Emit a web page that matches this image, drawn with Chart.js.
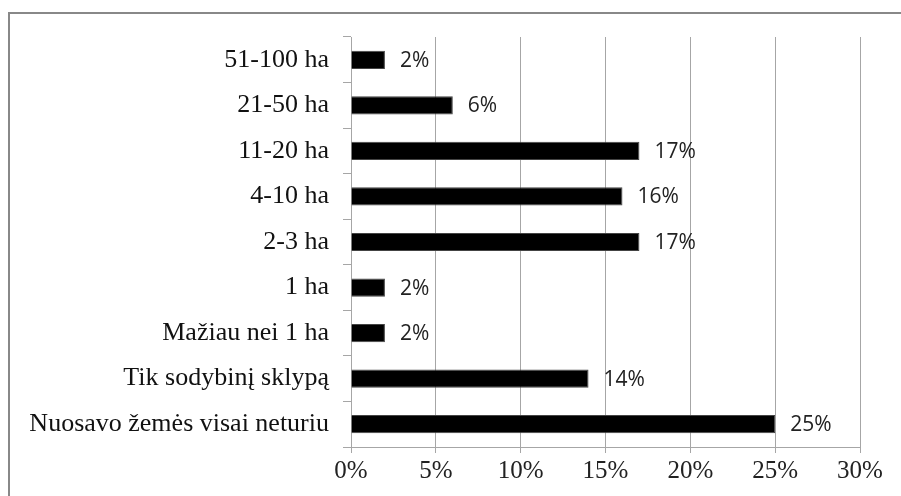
<!DOCTYPE html>
<html>
<head>
<meta charset="utf-8">
<script src="https://cdn.jsdelivr.net/npm/chart.js@4"></script>
<style>
  html, body { margin: 0; padding: 0; background: #fff; }
  #wrap { width: 901px; height: 496px; }
</style>
</head>
<body>
<div id="wrap"><canvas id="chart" width="901" height="496"></canvas></div>
<script>
const categories = [
  '51-100 ha',
  '21-50 ha',
  '11-20 ha',
  '4-10 ha',
  '2-3 ha',
  '1 ha',
  'Mažiau nei 1 ha',
  'Tik sodybinį sklypą',
  'Nuosavo žemės visai neturiu'
];
const shares = [2, 6, 17, 16, 17, 2, 2, 14, 25];
const xTicks = [0, 5, 10, 15, 20, 25, 30];

// frame around the whole picture
const framePlugin = {
  id: 'frame',
  beforeDraw(chart) {
    const ctx = chart.ctx;
    ctx.save();
    ctx.strokeStyle = '#888';
    ctx.lineWidth = 2;
    ctx.strokeRect(9, 13, 920, 520);
    ctx.restore();
  }
};

// percentage labels to the right of each bar
const valueLabels = {
  id: 'valueLabels',
  afterDatasetsDraw(chart) {
    const ctx = chart.ctx;
    ctx.save();
    ctx.font = '21px "Open Sans"';
    ctx.fillStyle = '#222';
    ctx.textBaseline = 'middle';
    ctx.textAlign = 'left';
    chart.getDatasetMeta(0).data.forEach((bar, i) => {
      ctx.fillText(shares[i] + '%', bar.x + 15, bar.y + 1);
    });
    ctx.restore();
  }
};

new Chart(document.getElementById('chart'), {
  type: 'bar',
  data: {
    labels: categories,
    datasets: [{
      data: shares,
      backgroundColor: '#000',
      borderColor: '#444',
      borderWidth: 1,
      barPercentage: 0.4,
      categoryPercentage: 1
    }]
  },
  options: {
    indexAxis: 'y',
    responsive: false,
    animation: false,
    layout: { padding: { top: 37, right: 41, bottom: 0, left: 0 } },
    plugins: {
      legend: { display: false },
      tooltip: { enabled: false }
    },
    scales: {
      x: {
        min: 0,
        max: 30,
        afterBuildTicks(scale) {
          scale.ticks = xTicks.map(v => ({ value: v }));
        },
        afterFit(scale) { scale.height = 49; },
        grid: {
          color: '#a6a6a6',
          lineWidth: 1,
          tickLength: 6,
          drawTicks: true
        },
        border: { color: '#a6a6a6', width: 1 },
        ticks: {
          callback: v => v + '%',
          color: '#222',
          font: { family: '"Liberation Serif"', size: 25 },
          padding: 3,
          maxRotation: 0
        }
      },
      y: {
        afterFit(scale) { scale.width = 351; },
        grid: {
          offset: true,
          drawOnChartArea: false,
          color: '#a6a6a6',
          tickLength: 8
        },
        border: { color: '#a6a6a6', width: 1 },
        ticks: {
          color: '#111',
          font: { family: '"Liberation Serif"', size: 26 },
          padding: 14
        }
      }
    }
  },
  plugins: [framePlugin, valueLabels]
});
</script>
</body>
</html>
